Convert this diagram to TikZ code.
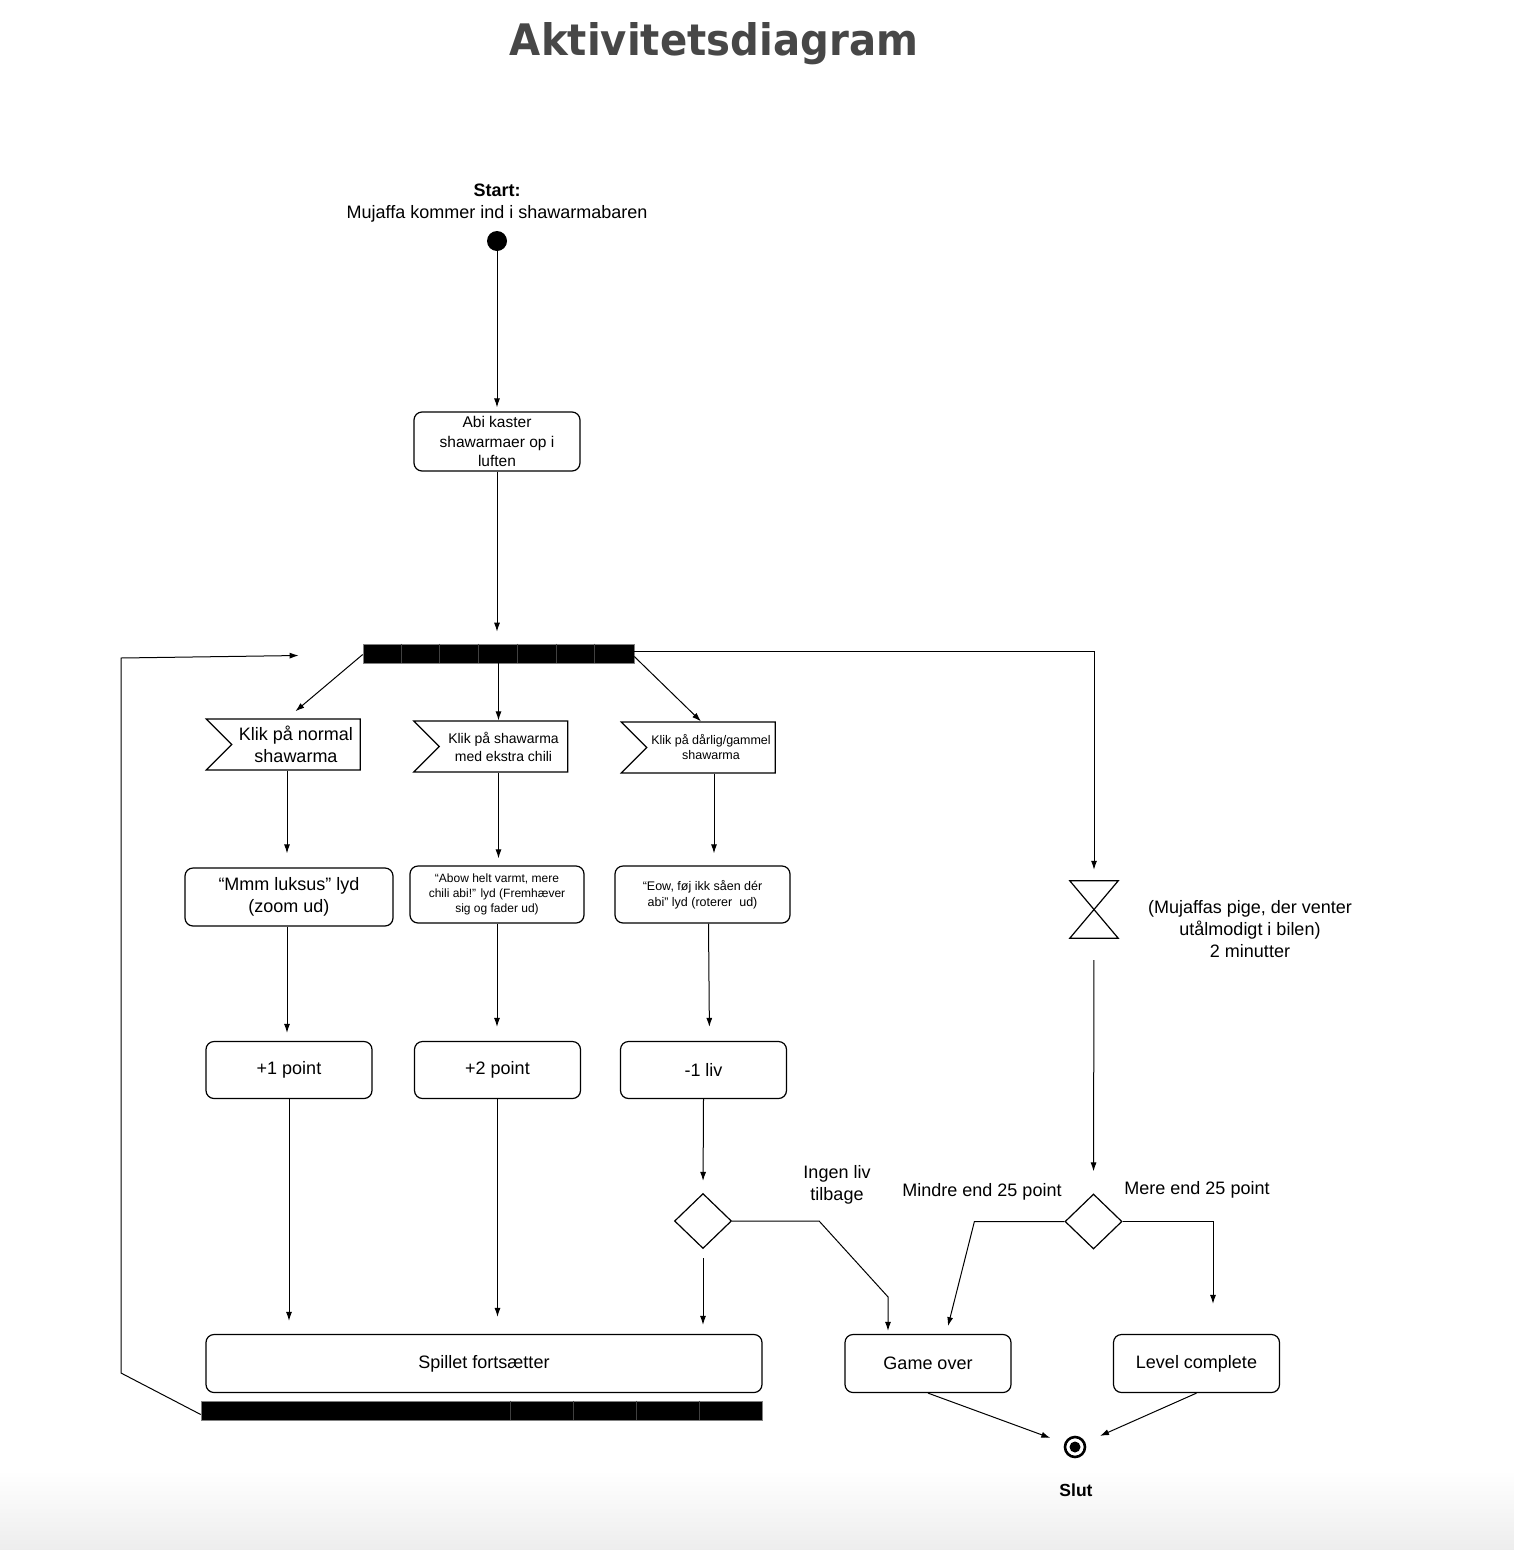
\documentclass[tikz,border=0pt]{standalone}
\usepackage{fontspec}
\setmainfont{Liberation Sans}
\newfontfamily\titlefont{DejaVu Sans}
\usetikzlibrary{shapes.geometric,shapes.symbols,arrows.meta}

\tikzset{
  akt/.style={draw, rounded corners=8pt, line width=1.2pt, minimum width=166pt,
    minimum height=58pt, align=center, inner sep=2pt, font={\fontsize{18}{22}\selectfont}},
  flag/.style={signal, signal from=west, signal to=nowhere, signal pointer angle=90,
    draw, line width=1.2pt, minimum width=154pt, minimum height=51pt, align=center, inner sep=1pt},
  bar/.style={fill=black, draw=gray, line width=0.6pt, minimum height=19pt, inner sep=0pt},
  beslut/.style={diamond, draw, line width=1.2pt, minimum width=57pt, minimum height=55pt, inner sep=0pt},
  pil/.style={-{Latex[length=9pt,width=6pt]}, line width=1pt},
  tekst/.style={align=center, font={\fontsize{18}{22}\selectfont}},
}

\begin{document}
\begin{tikzpicture}[x=1pt, y=-1pt]
\fill[white] (0,0) rectangle (1514,1550);
\shade[top color=white, bottom color=gray!14] (0,1470) rectangle (1514,1550);
\useasboundingbox (0,0) rectangle (1514,1550);

\node[text=black!72, inner sep=0pt] (titel) at (714,44)
  {\resizebox{408pt}{33pt}{\titlefont\bfseries Aktivitetsdiagram}};

\node[tekst, font={\fontsize{18}{22}\selectfont}] (starttxt) at (497,203)
  {\textbf{Start:}\\Mujaffa kommer ind i shawarmabaren};
\node[circle, fill, minimum size=20pt, inner sep=0pt] (start) at (497,241) {};

\node[akt, minimum height=59pt, font={\fontsize{15.5}{19.5}\selectfont}] (kaster) at (497,441.5)
  {Abi kaster\\shawarmaer op i\\luften};

\node[bar, minimum width=271pt] (gaffel) at (498.5,653.5) {};
\foreach \d in {39,77,116,155,194,232}
  \draw[black!75, line width=0.5pt] ([xshift=\d pt]gaffel.north west) -- ([xshift=\d pt]gaffel.south west);

\node[flag, font={\fontsize{18}{22}\selectfont}] (normal) at (296,744.5) {Klik på normal\\shawarma};
\node[flag, font={\fontsize{14}{18}\selectfont}] (chili) at (503.5,746.5) {Klik på shawarma\\med ekstra chili};
\node[flag, font={\fontsize{12.5}{15}\selectfont}] (daarlig) at (711,747.5) {Klik på dårlig/gammel\\shawarma};

\node[akt, minimum width=208pt] (luksus) at (289,897) {“Mmm luksus” lyd\\(zoom ud)};
\node[akt, minimum width=174pt, minimum height=57pt, font={\fontsize{12}{15}\selectfont}] (abow) at (497,894.5)
  {“Abow helt varmt, mere\\chili abi!” lyd (Fremhæver\\sig og fader ud)};
\node[akt, minimum width=175pt, minimum height=57pt, font={\fontsize{12.5}{16}\selectfont}] (eow) at (702.5,894.5)
  {“Eow, føj ikk såen dér\\abi” lyd (roterer~ ud)};

\node[minimum width=48pt, minimum height=57pt, inner sep=0pt] (timeglas) at (1094,909.5) {};
\draw[line width=1.2pt] (timeglas.north west) -- (timeglas.north east) -- (timeglas.south west)
  -- (timeglas.south east) -- cycle;
\node[tekst] (ventetxt) at (1250,929) {(Mujaffas pige, der venter\\utålmodigt i bilen)\\2 minutter};

\node[akt, minimum height=57pt] (plus1) at (289,1070) {+1 point};
\node[akt, minimum height=57pt] (plus2) at (497.5,1070) {+2 point};
\node[akt, minimum height=57pt] (minus) at (703.5,1070) {-1 liv};

\node[beslut] (beslut1) at (703,1221) {};
\node[beslut] (beslut2) at (1093.5,1221.5) {};
\node[tekst] (ingenliv) at (837,1185) {Ingen liv\\tilbage};
\node[tekst] (mindre) at (982,1192) {Mindre end 25 point};
\node[tekst] (mere) at (1197,1190) {Mere end 25 point};

\node[akt, minimum width=556pt] (spil) at (484,1363.5) {Spillet fortsætter};
\node[akt] (gameover) at (928,1363.5) {Game over};
\node[akt] (level) at (1196.5,1363.5) {Level complete};

\node[bar, minimum width=561pt] (samling) at (481.5,1410.5) {};
\foreach \d in {309,372,435,498}
  \draw[black!75, line width=0.4pt] ([xshift=\d pt]samling.north west) -- ([xshift=\d pt]samling.south west);

\node[circle, draw, line width=2.6pt, minimum size=20pt, inner sep=0pt,
  path picture={\fill (path picture bounding box.center) circle (5.5pt);}] (slut) at (1075,1447) {};
\node[tekst, font={\fontsize{17.5}{22}\selectfont\bfseries}] (sluttxt) at (1076,1490) {Slut};

\draw[pil, shorten >=4pt] (start) -- (kaster);
\draw[pil, shorten >=12pt] (kaster) -- (kaster.south |- gaffel.north);
\draw[pil, shorten >=11pt] ([yshift=-1pt]gaffel.west) -- ([xshift=-9pt]normal.center |- normal.north);
\draw[pil] (gaffel.south) -- (gaffel.south |- chili.north);
\draw[pil] ([yshift=-3pt]gaffel.east) -- ([xshift=-10pt]daarlig.center |- daarlig.north);
\draw[pil, shorten >=11pt] ([yshift=2pt]gaffel.east) -| (timeglas.north);

\draw[pil, shorten >=14pt] ([xshift=-9pt]normal.center |- normal.south) -- ([xshift=-9pt]normal.center |- luksus.north);
\draw[pil, shorten >=7pt] (gaffel.south |- chili.south) -- (gaffel.south |- abow.north);
\draw[pil, shorten >=12pt] ([xshift=3pt]daarlig.center |- daarlig.south) -- ([xshift=3pt]daarlig.center |- eow.north);

\draw[pil, shorten >=8pt] ([xshift=-2pt]luksus.south) -- ([xshift=-2pt]plus1.north);
\draw[pil, shorten >=14pt] (abow.south) -- (abow.south |- plus2.north);
\draw[pil, shorten >=14pt] ([xshift=6pt]eow.south) -- ([xshift=6pt]minus.north);

\draw[pil, shorten >=13pt] (plus1.south) -- (plus1.south |- spil.north);
\draw[pil, shorten >=17pt] (plus2.south) -- (plus2.south |- spil.north);
\draw[pil, shorten >=12pt] (minus.south) -- (beslut1.north);
\draw[pil, shorten <=9pt, shorten >=9pt] (beslut1.south) -- (beslut1.south |- spil.north);
\draw[pil, shorten >=3pt] (beslut1.east) -- ++(87,0) -- ([xshift=-40pt,yshift=37pt]gameover.north)
  -- ([xshift=-40pt]gameover.north);

\draw[pil, shorten <=22pt, shorten >=22pt] (timeglas.south) -- (beslut2.north);
\draw[pil, shorten >=8pt] (beslut2.west) -- ++(-90,0) -- ([xshift=18pt]gameover.north);
\draw[pil, shorten >=30pt] (beslut2.east) -| ([xshift=16.5pt]level.north);

\draw[pil, shorten >=15pt] (gameover.south) -- (slut);
\draw[pil, shorten >=16pt] (level.south) -- (slut);

\draw[pil] ([yshift=-4pt]samling.west) -- (121,1373) -- (121,658) -- ([xshift=-64pt,yshift=-2pt]gaffel.west);
\end{tikzpicture}
\end{document}
